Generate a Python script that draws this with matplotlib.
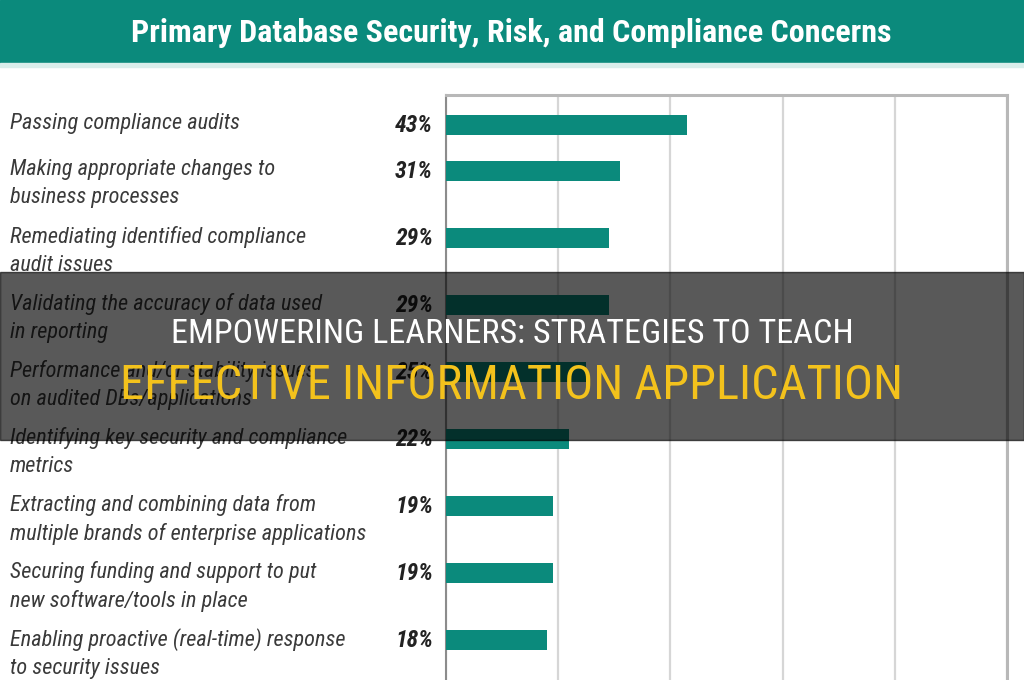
import matplotlib
matplotlib.use("Agg")
import matplotlib.pyplot as plt
import matplotlib.transforms as mtransforms
from matplotlib.patches import Rectangle

concerns = [
    "Passing compliance audits",
    "Making appropriate changes to\nbusiness processes",
    "Remediating identified compliance\naudit issues",
    "Validating the accuracy of data used\nin reporting",
    "Performance and/or stability issues\non audited DBs/applications",
    "Identifying key security and compliance\nmetrics",
    "Extracting and combining data from\nmultiple brands of enterprise applications",
    "Securing funding and support to put\nnew software/tools in place",
    "Enabling proactive (real-time) response\nto security issues",
]
shares = [43, 31, 29, 29, 25, 22, 19, 19, 18]

chart_title = "Primary Database Security, Risk, and Compliance Concerns"
headline_1 = "EMPOWERING LEARNERS: STRATEGIES TO TEACH"
headline_2 = "EFFECTIVE INFORMATION APPLICATION"

teal = "#0b8a7c"
narrow = ["Roboto Condensed", "Archivo Narrow", "DejaVu Sans"]

# rows with a single text line sit closer together
pos = [0.0]
for lab in concerns[:-1]:
    pos.append(pos[-1] + (0.69 if "\n" not in lab else 1.0))

fig = plt.figure(figsize=(10.24, 6.8), dpi=100)
fig.patch.set_facecolor("white")

W, H = 1024, 680
ax = fig.add_axes([446 / W, 0, (1007 - 446) / W, 1 - 95 / H])
ax.barh(pos, shares, height=0.3, color=teal, zorder=3)
ax.set_xlim(0, 100)
ax.set_ylim(-0.448 + 585 / 67, -0.448)
ax.set_xticks(range(0, 101, 20))
ax.set_yticks([])
ax.tick_params(axis="x", length=0, labelbottom=False)
ax.grid(axis="x", color="#d6d6d6", lw=1.6, zorder=0)
ax.spines["left"].set_color("#8c8c8c")
ax.spines["left"].set_linewidth(1.5)
for s in ("top", "right"):
    ax.spines[s].set_color("#b8b8b8")
    ax.spines[s].set_linewidth(2.2)
ax.spines["bottom"].set_visible(False)

tr = mtransforms.blended_transform_factory(fig.transFigure, ax.transData)
for p, lab, v in zip(pos, concerns, shares):
    ax.text(10 / W, p - 0.18, lab, transform=tr, ha="left", va="top",
            fontsize=16, style="italic", color="#3a3a3a", family=narrow,
            linespacing=1.4, clip_on=False)
    ax.text(433 / W, p, f"{v}%", transform=tr, ha="right", va="center",
            fontsize=17, style="italic", weight="bold", color="#222222",
            family=narrow, clip_on=False)

# title banner
fig.patches.append(Rectangle((0, 1 - 63 / H), 1, 63 / H, transform=fig.transFigure,
                             color=teal, zorder=5))
fig.patches.append(Rectangle((0, 1 - 67 / H), 1, 4 / H, transform=fig.transFigure,
                             color="#d9eeeb", zorder=5))
fig.text(0.499, 1 - 33 / H, chart_title, ha="center", va="center", color="white",
         fontsize=23, weight="bold", family=narrow, zorder=6)

# dark overlay strip with headline
fig.patches.append(Rectangle((0, 1 - 440 / H), 1, 168 / H, transform=fig.transFigure,
                             color="black", alpha=0.65, zorder=10))
fig.text(0.5, 1 - 334 / H, headline_1, ha="center", va="center", color="white",
         fontsize=24.6, family=narrow, zorder=11)
fig.text(0.5, 1 - 386 / H, headline_2, ha="center", va="center", color="#f3c21c",
         fontsize=34.8, family=narrow, zorder=11)

fig.savefig("out.png", dpi=100)
